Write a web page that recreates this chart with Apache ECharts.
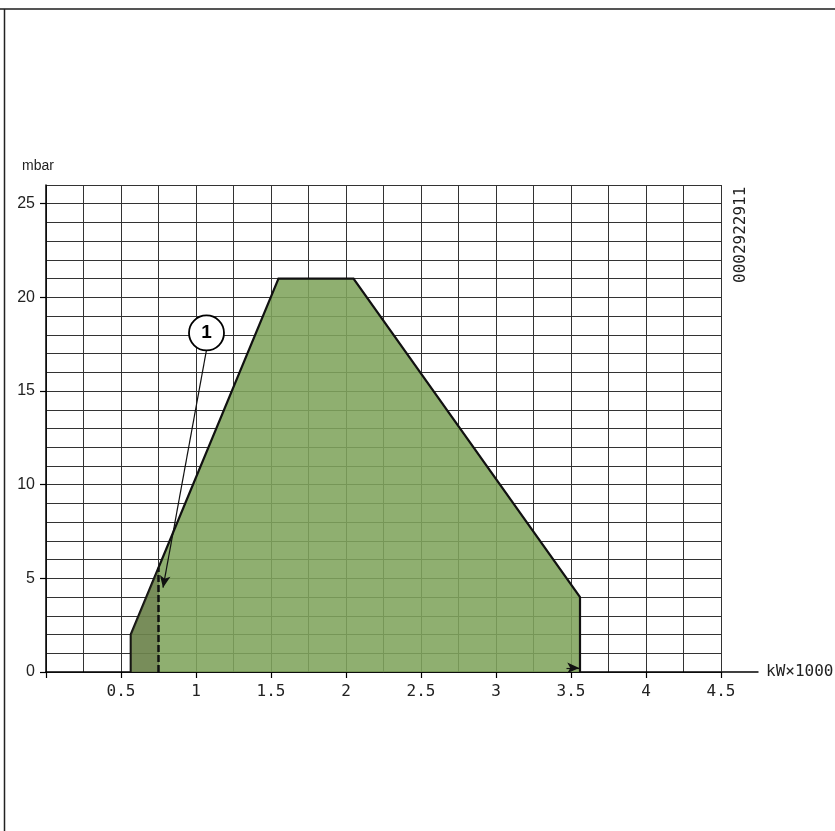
<!DOCTYPE html>
<html>
<head>
<meta charset="utf-8">
<script src="https://cdn.jsdelivr.net/npm/echarts@6/dist/echarts.min.js"></script>
<style>
html, body { margin: 0; padding: 0; background: #fff; }
#chart { width: 835px; height: 831px; }
</style>
</head>
<body>
<div id="chart"></div>
<script>
// operating range envelope, kW x 1000 against mbar
const envelopeX = [0.565, 0.565, 1.55, 2.05, 3.56, 3.56]
const envelopeY = [0, 2, 21, 21, 4, 0]
// darker part left of the dashed line
const lowX = [0.565, 0.565, 0.75, 0.75]
const lowY = [0, 2, 5.57, 0]
const dashX = [0.75, 0.75]
const dashY = [0, 5.57]
// axis ticks / labels
const xTickValues = [0, 0.5, 1, 1.5, 2, 2.5, 3, 3.5, 4, 4.5]
const xLabelValues = [0.5, 1, 1.5, 2, 2.5, 3, 3.5, 4, 4.5]
const yTickValues = [0, 5, 10, 15, 20, 25]
const axisTailX = [4.5, 4.75]
// callout "1" and where its arrow points
const calloutPos = [1.07, 18.1]
const calloutFrom = [1.07, 17.2]
const calloutTip = [0.78, 4.5]
// small arrow on the x axis at max output
const maxArrowFrom = [3.47, 0.22]
const maxArrowTo = [3.555, 0.22]

const pts = (xs, ys) => xs.map((x, i) => [x, ys[i]])

const mono = 'DejaVu Sans Mono'
const sans = 'Liberation Sans'
const gridLine = { show: true, lineStyle: { color: '#333', width: 1 } }

let chart = echarts.init(document.getElementById('chart'))

let option = {
  animation: false,
  backgroundColor: '#fff',
  grid: { left: 46, right: 114, top: 185, bottom: 159, outerBoundsMode: 'none', containLabel: false },
  xAxis: [
    {
      // only the fine grid
      type: 'value', min: 0, max: 4.5, interval: 0.25,
      position: 'bottom',
      axisLine: { show: false }, axisTick: { show: false }, axisLabel: { show: false },
      splitLine: gridLine
    },
    {
      type: 'value', min: 0, max: 4.5,
      position: 'bottom',
      name: 'kW×1000',
      nameLocation: 'end',
      nameGap: 45,
      nameTextStyle: { fontFamily: mono, fontSize: 16, color: '#222', verticalAlign: 'middle' },
      axisLine: { show: true, onZero: false, lineStyle: { color: '#000', width: 1.5 } },
      axisTick: { show: true, customValues: xTickValues, length: 6, lineStyle: { color: '#000', width: 1.2 } },
      axisLabel: { customValues: xLabelValues, margin: 12, fontFamily: mono, fontSize: 16, color: '#222' },
      splitLine: { show: false }
    }
  ],
  yAxis: [
    {
      type: 'value', min: 0, max: 26, interval: 1,
      position: 'left',
      axisLine: { show: false }, axisTick: { show: false }, axisLabel: { show: false },
      splitLine: gridLine
    },
    {
      type: 'value', min: 0, max: 26,
      position: 'left',
      name: 'mbar',
      nameLocation: 'end',
      nameGap: 19,
      nameTextStyle: { fontFamily: sans, fontSize: 14, color: '#222', align: 'center', verticalAlign: 'middle', padding: [0, 16, 0, 0] },
      axisLine: { show: true, onZero: false, lineStyle: { color: '#000', width: 1.5 } },
      axisTick: { show: true, customValues: yTickValues, length: 6, lineStyle: { color: '#000', width: 1.2 } },
      axisLabel: { customValues: yTickValues, margin: 11, fontFamily: sans, fontSize: 16, color: '#222' },
      splitLine: { show: false }
    }
  ],
  graphic: [
    { type: 'line', shape: { x1: 0, y1: 9, x2: 835, y2: 9 }, style: { stroke: '#555', lineWidth: 2 } },
    { type: 'line', shape: { x1: 4.5, y1: 9, x2: 4.5, y2: 831 }, style: { stroke: '#222', lineWidth: 1.5 } },
    {
      type: 'text',
      x: 733,
      y: 283,
      rotation: Math.PI / 2,
      style: { text: '0002922911', font: '16px "DejaVu Sans Mono"', fill: '#222', textAlign: 'left', textVerticalAlign: 'top' }
    }
  ],
  series: [
    {
      name: 'range',
      type: 'line',
      data: pts(envelopeX, envelopeY),
      symbol: 'none',
      z: 3,
      lineStyle: { color: '#111', width: 2.2, join: 'miter' },
      areaStyle: { color: 'rgb(128,164,92)', opacity: 0.88, origin: 0 }
    },
    {
      name: 'low',
      type: 'line',
      data: pts(lowX, lowY),
      symbol: 'none',
      z: 4,
      lineStyle: { width: 0 },
      areaStyle: { color: 'rgba(80,80,50,0.5)', origin: 0 }
    },
    {
      name: 'dash',
      type: 'line',
      data: pts(dashX, dashY),
      symbol: 'none',
      z: 5,
      lineStyle: { color: '#111', width: 2.5, type: [7, 3] }
    },
    {
      name: 'callout',
      type: 'scatter',
      data: [calloutPos],
      symbol: 'circle',
      symbolSize: 35,
      z: 10,
      itemStyle: { color: '#fff', borderColor: '#000', borderWidth: 1.8, opacity: 1 },
      label: { show: true, position: 'inside', formatter: '1', fontFamily: sans, fontWeight: 'bold', fontSize: 19, color: '#000' },
      markLine: {
        silent: true,
        symbol: ['none', 'arrow'],
        symbolSize: [8, 12],
        label: { show: false },
        lineStyle: { color: '#111', width: 1.2, type: 'solid' },
        data: [
          [{ coord: calloutFrom }, { coord: calloutTip }],
          [{ coord: maxArrowFrom }, { coord: maxArrowTo }]
        ]
      }
    }
  ]
}

chart.setOption(option)

// x axis line runs on past the grid, up to the unit label
let tailA = chart.convertToPixel({ gridIndex: 0 }, [axisTailX[0], 0])
let tailB = chart.convertToPixel({ gridIndex: 0 }, [axisTailX[1], 0])
option.graphic.push({
  type: 'line',
  shape: { x1: tailA[0], y1: tailA[1], x2: tailB[0], y2: tailB[1] },
  style: { stroke: '#000', lineWidth: 1.5 }
})
chart.setOption({ graphic: option.graphic })
</script>
</body>
</html>
